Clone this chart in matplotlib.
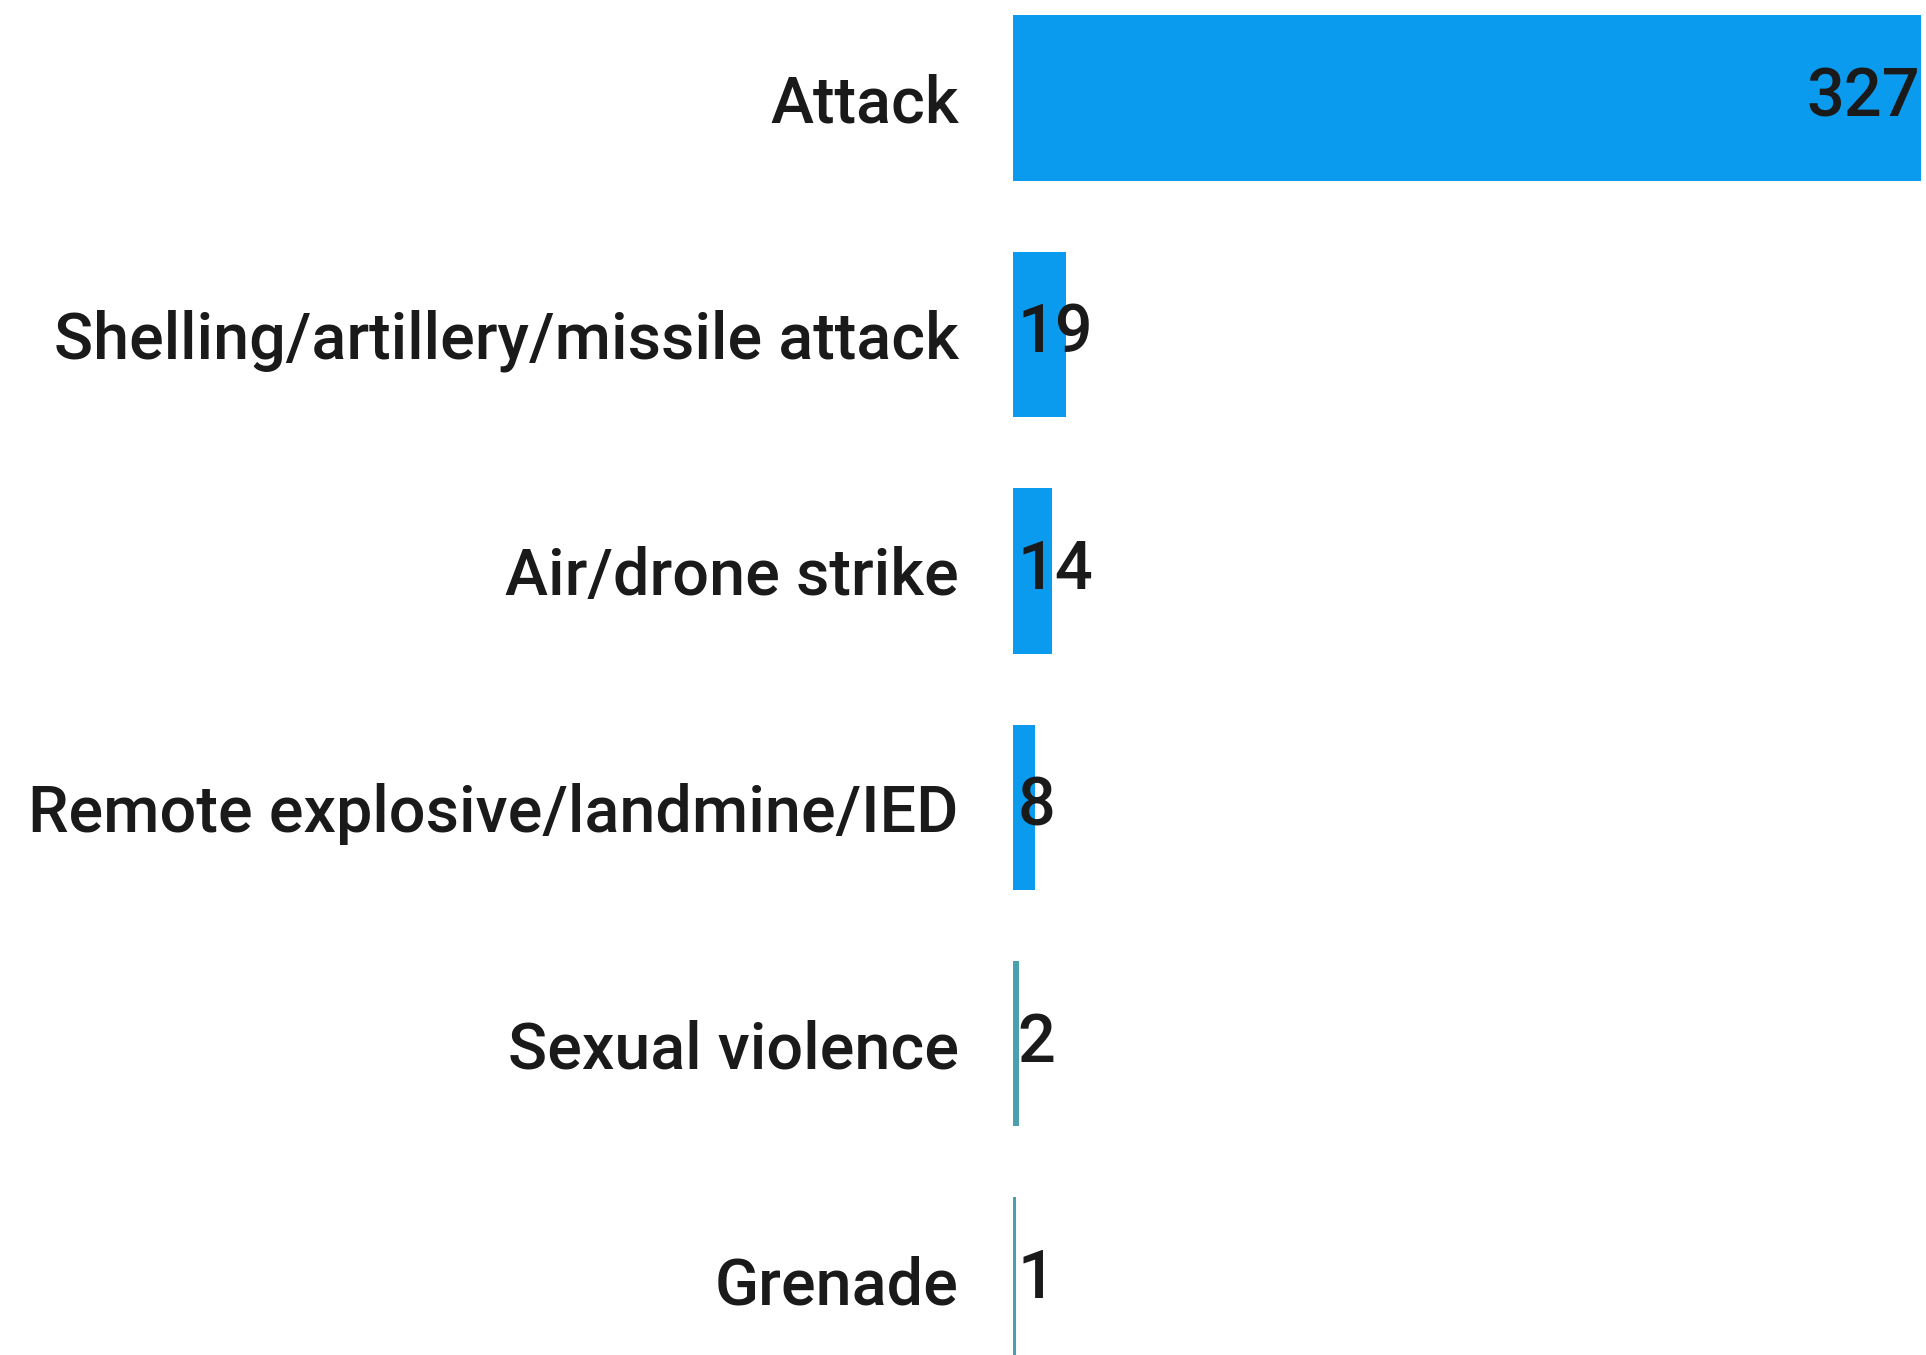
import matplotlib
matplotlib.use("Agg")
import matplotlib.pyplot as plt

categories = ["Attack", "Shelling/artillery/missile attack", "Air/drone strike",
              "Remote explosive/landmine/IED", "Sexual violence", "Grenade"]
values = [327, 19, 14, 8, 2, 1]

BAR_COLOR = "#0A9BEE"
THIN_COLOR = "#4A9FB0"

plt.rcParams['font.family'] = ['Roboto', 'DejaVu Sans']

fig = plt.figure(figsize=(19.26, 13.55), dpi=100)
ax = fig.add_axes([1013 / 1926, 0, 913 / 1926, 1])

ypos = list(range(len(categories)))
colors = [BAR_COLOR if v > 3 else THIN_COLOR for v in values]
ax.barh(ypos, values, height=0.70, color=colors, edgecolor='none')

ax.set_xlim(0, 328.8)
ax.set_ylim(5.317, -0.415)

ax.set_yticks(ypos)
ax.set_yticklabels(categories, fontsize=46.5, color="#1a1a1a", fontweight='medium')
ax.tick_params(axis='y', length=0, pad=39)
ax.set_xticks([])
for s in ax.spines.values():
    s.set_visible(False)

vmax = max(values)
for y, v in zip(ypos, values):
    if v > vmax * 0.5:
        ax.text(v - 0.3, y, str(v), ha='right', va='center', fontsize=48,
                color="#1a1a1a", fontweight='medium')
    else:
        ax.text(1.6, y, str(v), ha='left', va='center', fontsize=48,
                color="#1a1a1a", fontweight='medium')

fig.savefig("out.png", dpi=100, facecolor="white")
